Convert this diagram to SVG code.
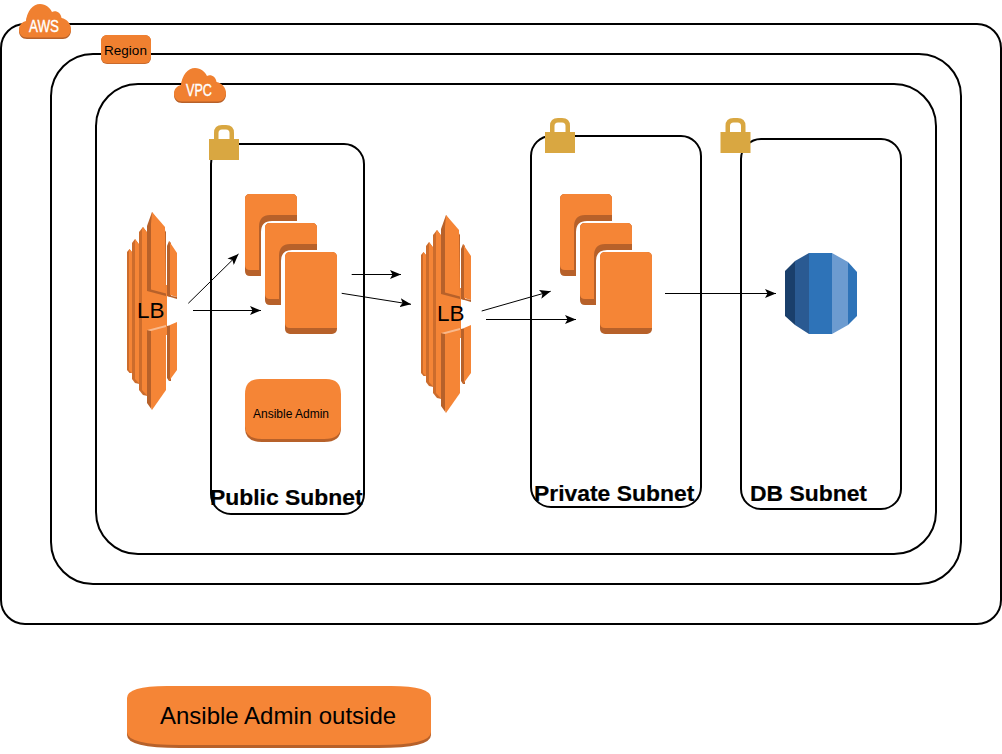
<svg xmlns="http://www.w3.org/2000/svg" width="1002" height="754" viewBox="0 0 1002 754">
<style>
text{font-family:"Liberation Sans",Arial,sans-serif;fill:#000}
.box{fill:none;stroke:#000;stroke-width:2}
.o{fill:#F58536}
.d{fill:#B7612A}
.m{fill:#CC6C2C}
.l{fill:#F9B98C}
.lock{fill:#D9A741}
.sub{font-weight:bold;font-size:22.900px;stroke:#000;stroke-width:.2}
.cl{fill:#fff;font-size:16px;stroke:#fff;stroke-width:.35}
.conn{stroke:#000;stroke-width:1;fill:none;marker-end:url(#ah)}
</style>
<defs>
<marker id="ah" markerUnits="userSpaceOnUse" markerWidth="12" markerHeight="9" refX="11" refY="4.500" orient="auto"><path d="M0,0 L11,4.500 L0,9 L2.500,4.500 Z" fill="#000"/></marker>
<path id="cloudShape" d="M27,37.500 C22,37.500 19,34 19,29.500 C19,25 22,22 26,21 C27,11 33,4 40,4 C46,4 50,8 52,12 C56,10 61,13 61.500,18 C67,19 71,24 71,29 C71,34 67,37.500 63,37.500 Z"/>
<g id="cloud">
<use href="#cloudShape" y="1.500" fill="#B7612A"/>
<use href="#cloudShape" fill="#F08030"/>
</g>
<g id="lock">
<path d="M7.250,15 V8 Q7.250,2.250 13,2.250 H17 Q22.750,2.250 22.750,8 V15" fill="none" stroke="#D9A741" stroke-width="4.500"/>
<rect class="lock" x="0" y="14" width="30" height="21"/>
</g>
<g id="lb">
<path class="m" d="M127,252 L129.500,249 L132,252 V373 L129.500,373 L127,370 Z"/>
<path class="o" d="M129,251 L129.500,249 L132.500,253 V374 L129,370 Z"/>
<path class="m" d="M132,243 L135,239 L139.500,245 V384 L135,383 L132,379 Z"/>
<path class="o" d="M135,241 L135,239 L139.500,245 V384 L135,379 Z"/>
<path class="m" d="M139,232 L143,227 L147.500,233 V396 L143,395 L139,390 Z"/>
<path class="o" d="M142,229 L143,227 L147.500,233 V396 L142,390 Z"/>
<rect class="o" x="147" y="285" width="20" height="50"/>
<path class="d" d="M147,226 L152,212 L166,232 V296 L147,291 Z"/>
<path class="o" d="M151,224 L152,212 L165,227 L166,293.500 L151,289.500 Z"/>
<path class="d" d="M167,246 L169,241 L171,243 V297 L167,296 Z"/>
<path class="o" d="M170,245 L169,241 L177,253 V297 L170,295 Z"/>
<path class="d" d="M177,297 V299 L167,296 V295 Z"/>
<path class="d" d="M147,330 L151,331 V407 L152,410 L147,403 Z"/>
<path class="o" d="M151,329 L166,325 V390 L152,410 L151,407 Z"/>
<path class="l" d="M147,330 L166,325 V327 L151,331 Z"/>
<path class="d" d="M167,326 L171,325 V381 L169,381 L167,378 Z"/>
<path class="o" d="M170,325 L177,322 V370 L169,381 L170,378 Z"/>
</g>
<g id="cardL">
<path class="d" d="M250,194 H292 Q297,194 297,199 V221 H272 Q261,221 261,232 V276 H250 Q245,276 245,271 V199 Q245,194 250,194 Z"/>
<path class="o" d="M250,194 H292 Q297,194 297,199 V215 H270 Q259,215 259,227 V270 H250 Q245,270 245,265 V199 Q245,194 250,194 Z"/>
</g>
<g id="card">
<rect class="d" x="285" y="252" width="52" height="82" rx="5"/>
<path class="o" d="M290,252 H332 Q337,252 337,257 V328 H290 Q285,328 285,323 V257 Q285,252 290,252 Z"/>
</g>
</defs>
<rect width="1002" height="754" fill="#fff"/>
<g id="aws"><rect class="box" x="1" y="24" width="1000" height="600" rx="24"/><use href="#cloud"/><text class="cl" x="29" y="32" textLength="30" lengthAdjust="spacingAndGlyphs">AWS</text></g>
<g id="region"><rect class="box" x="51" y="54" width="910" height="530" rx="42"/><rect x="101" y="35" width="50" height="29" rx="6" fill="#C96A2C"/><rect x="101" y="35" width="50" height="28" rx="6" fill="#F08030"/><text x="125.500" y="54.500" font-size="13.500" text-anchor="middle">Region</text></g>
<g id="vpc"><rect class="box" x="96" y="84" width="840" height="470" rx="42"/><use href="#cloud" x="155" y="64"/><text class="cl" x="186" y="96" textLength="26" lengthAdjust="spacingAndGlyphs">VPC</text></g>
<g id="public-subnet"><rect class="box" x="211" y="144" width="153" height="370" rx="20"/><use href="#lock" x="209" y="125"/><text class="sub" x="210" y="505">Public Subnet</text></g>
<g id="private-subnet"><rect class="box" x="531" y="136" width="170" height="371" rx="20"/><use href="#lock" x="545" y="118"/><text class="sub" x="534" y="501">Private Subnet</text></g>
<g id="db-subnet"><rect class="box" x="741" y="139" width="160" height="370" rx="20"/><use href="#lock" x="720.500" y="118"/><text class="sub" x="750" y="501">DB Subnet</text></g>
<g id="lb-public"><use href="#lb"/><text x="137" y="318" font-size="22.500">LB</text></g>
<g id="lb-private"><use href="#lb" x="294" y="3"/><text x="437" y="321" font-size="22.500">LB</text></g>
<g id="web-instances"><use href="#cardL"/><use href="#cardL" x="20" y="29"/><use href="#card"/></g>
<g id="app-instances"><use href="#cardL" x="315"/><use href="#cardL" x="335" y="29"/><use href="#card" x="315"/></g>
<g id="ansible-admin">
<path class="d" d="M245,400 V428 Q245,442 262,442 H324 Q341,442 341,428 V400 Z"/>
<path class="o" d="M260,379 H326 Q341,379 341,394 V426 Q341,439 324,439 H262 Q245,439 245,426 V394 Q245,379 260,379 Z"/>
<text x="253" y="418" font-size="12">Ansible Admin</text>
</g>
<g id="rds">
<path fill="#1A3F6B" d="M785,271 L795,261 V325 L785,316 Z"/>
<path fill="#2A5A92" d="M795,261 L809,253 V334 L795,325 Z"/>
<rect x="809" y="253" width="23" height="81" fill="#2E73B8"/>
<path fill="#6C9BD0" d="M832,253 L848,262 V325 L832,334 Z"/>
<path fill="#2E73B8" d="M848,262 L857,272 V316 L848,325 Z"/>
</g>
<g id="ansible-outside">
<path class="d" d="M127,700 V735 Q127,748 180,748 H378 Q431,748 431,735 V700 Z"/>
<path class="o" d="M167,686 H391 Q431,686 431,698 V732 Q431,745 378,745 H180 Q127,745 127,732 V698 Q127,686 167,686 Z"/>
<text x="160" y="724" font-size="24">Ansible Admin outside</text>
</g>
<g id="connectors">
<path class="conn" d="M188.300,303.300 L238.500,254"/>
<path class="conn" d="M193,310.500 L261,310.500"/>
<path class="conn" d="M351.700,274.500 L401,274.500"/>
<path class="conn" d="M341.700,293.300 L411,304.300"/>
<path class="conn" d="M481.700,311 L550.700,291.300"/>
<path class="conn" d="M486,319.500 L576,319.500"/>
<path class="conn" d="M665,293.500 L776,293.500"/>
</g>
</svg>
